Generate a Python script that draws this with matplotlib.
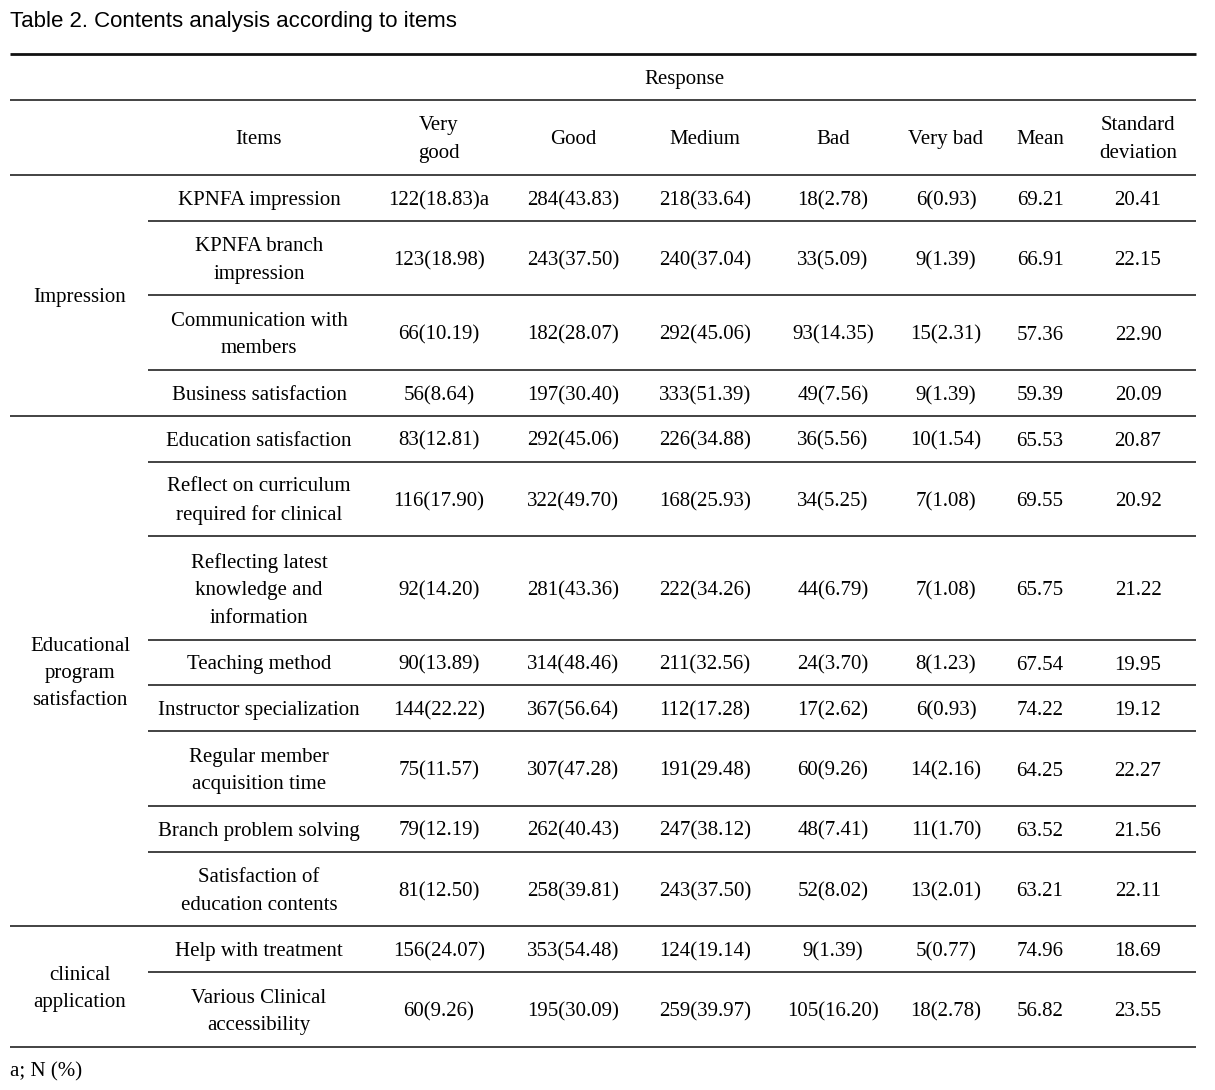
import matplotlib
matplotlib.use('Agg')
import matplotlib.pyplot as plt

plt.rcParams['font.family'] = ['Liberation Serif', 'DejaVu Serif']

# 表格数据
title = 'Table 2. Contents analysis according to items'
footnote = 'a; N (%)'
header = ['Items', 'Very\ngood', 'Good', 'Medium', 'Bad', 'Very bad', 'Mean', 'Standard\ndeviation']

groups = ['Impression', 'Educational\nprogram\nsatisfaction', 'clinical\napplication']
group_sizes = [4, 8, 2]

items = ['KPNFA impression', 'KPNFA branch\nimpression', 'Communication with\nmembers',
         'Business satisfaction', 'Education satisfaction',
         'Reflect on curriculum\nrequired for clinical',
         'Reflecting latest\nknowledge and\ninformation', 'Teaching method',
         'Instructor specialization', 'Regular member\nacquisition time',
         'Branch problem solving', 'Satisfaction of\neducation contents',
         'Help with treatment', 'Various Clinical\naccessibility']

very_good_n = [122, 123, 66, 56, 83, 116, 92, 90, 144, 75, 79, 81, 156, 60]
very_good_p = ['18.83', '18.98', '10.19', '8.64', '12.81', '17.90', '14.20', '13.89', '22.22', '11.57', '12.19', '12.50', '24.07', '9.26']
good_n = [284, 243, 182, 197, 292, 322, 281, 314, 367, 307, 262, 258, 353, 195]
good_p = ['43.83', '37.50', '28.07', '30.40', '45.06', '49.70', '43.36', '48.46', '56.64', '47.28', '40.43', '39.81', '54.48', '30.09']
medium_n = [218, 240, 292, 333, 226, 168, 222, 211, 112, 191, 247, 243, 124, 259]
medium_p = ['33.64', '37.04', '45.06', '51.39', '34.88', '25.93', '34.26', '32.56', '17.28', '29.48', '38.12', '37.50', '19.14', '39.97']
bad_n = [18, 33, 93, 49, 36, 34, 44, 24, 17, 60, 48, 52, 9, 105]
bad_p = ['2.78', '5.09', '14.35', '7.56', '5.56', '5.25', '6.79', '3.70', '2.62', '9.26', '7.41', '8.02', '1.39', '16.20']
very_bad_n = [6, 9, 15, 9, 10, 7, 7, 8, 6, 14, 11, 13, 5, 18]
very_bad_p = ['0.93', '1.39', '2.31', '1.39', '1.54', '1.08', '1.08', '1.23', '0.93', '2.16', '1.70', '2.01', '0.77', '2.78']
mean = ['69.21', '66.91', '57.36', '59.39', '65.53', '69.55', '65.75', '67.54', '74.22', '64.25', '63.52', '63.21', '74.96', '56.82']
sd = ['20.41', '22.15', '22.90', '20.09', '20.87', '20.92', '21.22', '19.95', '19.12', '22.27', '21.56', '22.11', '18.69', '23.55']

# 版面（像素）
W, H = 1215, 1090
x_left, x_right, x_inner = 10, 1196, 148
group_x = 80
col_x = [259, 439, 573, 705, 833, 946, 1040, 1138]
fs = 15
ls = 1.6
dy = 2.5   # 文字视觉居中的微调

fig = plt.figure(figsize=(W / 100, H / 100), dpi=100)
ax = fig.add_axes([0, 0, 1, 1])
ax.set_xlim(0, W)
ax.set_ylim(H, 0)
ax.axis('off')

def hline(y, x0=x_left, lw=1.2, color='#222222'):
    ax.plot([x0, x_right], [y, y], color=color, lw=lw, solid_capstyle='butt')

def cell(x, y, s, **kw):
    ax.text(x, y + dy, s, ha='center', va='center', fontsize=fs, linespacing=ls, **kw)

ax.text(x_left, 21, title, ha='left', va='center', fontsize=16,
        family=['Liberation Sans', 'DejaVu Sans'])

hline(54, lw=2.0, color='#111111')
cell(684, 77, 'Response')
hline(100)
for x, h in zip(col_x, header):
    cell(x, 137, h)
hline(175)

# 行高按行数计算
y = 175
row_edges = [y]
for it in items:
    n = it.count('\n') + 1
    y += 17 + 28.8 * n
    row_edges.append(y)

cols = [
    [f'{n}({p})' for n, p in zip(very_good_n, very_good_p)],
    [f'{n}({p})' for n, p in zip(good_n, good_p)],
    [f'{n}({p})' for n, p in zip(medium_n, medium_p)],
    [f'{n}({p})' for n, p in zip(bad_n, bad_p)],
    [f'{n}({p})' for n, p in zip(very_bad_n, very_bad_p)],
    mean, sd,
]
cols[0][0] += 'a'

for i, it in enumerate(items):
    yc = (row_edges[i] + row_edges[i + 1]) / 2
    cell(col_x[0], yc, it)
    for j, c in enumerate(cols):
        cell(col_x[j + 1], yc, c[i])

start = 0
for g, size in zip(groups, group_sizes):
    y0, y1 = row_edges[start], row_edges[start + size]
    cell(group_x, (y0 + y1) / 2, g)
    for k in range(start + 1, start + size):
        hline(row_edges[k], x0=x_inner)
    hline(y1)
    start += size

ax.text(x_left, 1072, footnote, ha='left', va='center', fontsize=fs)

fig.savefig('out.png', dpi=100)
